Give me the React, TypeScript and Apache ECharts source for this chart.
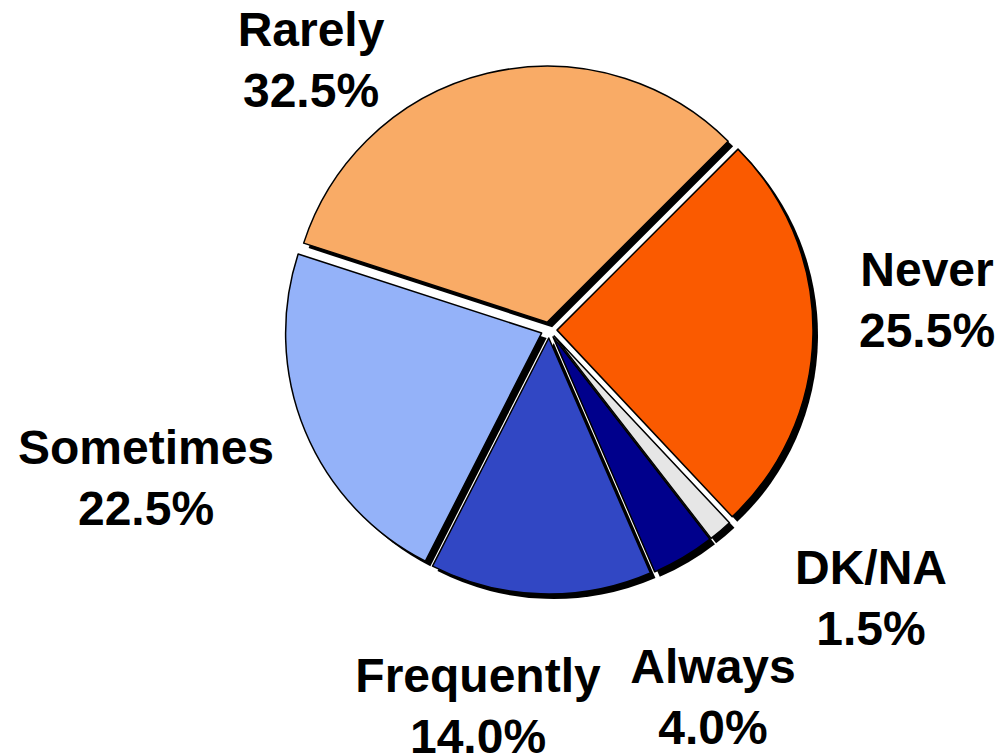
import React, { useEffect, useRef } from "react";
import * as echarts from "echarts";

const categories = ["Never", "DK/NA", "Always", "Frequently", "Sometimes", "Rarely"];
const values = [25.5, 1.5, 4.0, 14.0, 22.5, 32.5];
const colors = ["#FA5A00", "#E6E6E6", "#00008C", "#3147C4", "#94B2F9", "#F9AB66"];
// label block centres (layout only)
const labelPos: [number, number][] = [
  [927, 300],
  [871, 598],
  [713, 697],
  [478, 706],
  [146, 478],
  [311, 60],
];

const CX = 549;
const CY = 330;
const R = 256;
const OFFSET = 8;
const SHADOW = 5;

export default function App() {
  const ref = useRef<HTMLDivElement>(null);
  useEffect(() => {
    if (!ref.current) return;
    const chart = echarts.init(ref.current, undefined, { renderer: "svg" });
    const mkData = (shadow: boolean) =>
      categories.map((name, i) => ({
        name,
        value: values[i],
        selected: true,
        itemStyle: {
          color: shadow ? "#000" : colors[i],
          borderColor: "#000",
          borderWidth: shadow ? 0 : 1.5,
        },
        select: {
          itemStyle: {
            color: shadow ? "#000" : colors[i],
            borderColor: "#000",
            borderWidth: shadow ? 0 : 1.5,
          },
        },
      }));
    const base = {
      type: "pie" as const,
      radius: R,
      startAngle: 45,
      clockwise: true,
      selectedMode: "multiple" as const,
      selectedOffset: OFFSET,
      avoidLabelOverlap: false,
      emphasis: { disabled: true },
      label: { show: false },
      labelLine: { show: false },
    };
    chart.setOption({
      animation: false,
      backgroundColor: "#fff",
      series: [
        {
          ...base,
          center: [CX + SHADOW, CY + SHADOW],
          silent: true,
          data: mkData(true),
        },
        {
          ...base,
          center: [CX, CY],
          data: mkData(false),
        },
      ],
      graphic: categories.map((name, i) => ({
        type: "text",
        x: labelPos[i][0],
        y: labelPos[i][1],
        z: 100,
        style: {
          text: `${name}\n${values[i].toFixed(1)}%`,
          fill: "#000",
          font: 'bold 48px "Liberation Sans", Arial, sans-serif',
          lineHeight: 61,
          align: "center",
          verticalAlign: "middle",
        },
      })),
    });
    return () => chart.dispose();
  }, []);
  return (
    <div
      ref={ref}
      style={{ position: "fixed", left: 0, top: 0, width: 1000, height: 755 }}
    />
  );
}
